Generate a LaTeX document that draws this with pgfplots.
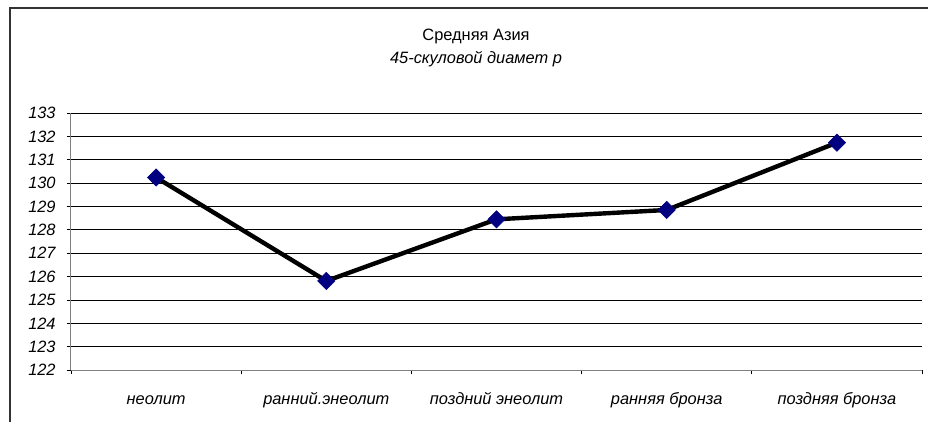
\documentclass[border=0pt]{standalone}
\usepackage{fontspec}
\setmainfont{Liberation Sans}
\usepackage{pgfplots}
\pgfplotsset{compat=1.18}
\definecolor{navy}{HTML}{000080}
\definecolor{axgray}{HTML}{808080}

\begin{document}
\begin{tikzpicture}
% page is 928 x 422 px at 0.75pt per px
\useasboundingbox (0,0) rectangle (696pt,316.5pt);
\draw[black!80, line width=1pt] (7.5pt,0) -- (7.5pt,310.5pt) -- (696pt,310.5pt);
\node[font=\fontsize{12.3}{14}\selectfont] at (357pt,289pt) {Средняя Азия};
\node[font=\itshape\fontsize{12.3}{14}\selectfont] at (357pt,272.5pt) {45-скуловой диамет р};
\begin{axis}[
  at={(53.25pt,39pt)}, anchor=south west,
  scale only axis, width=638.25pt, height=192.75pt,
  xmin=0.5, xmax=5.5, ymin=122, ymax=133,
  xtick={0.5,1.5,...,5.5}, x tick label as interval,
  xticklabels={неолит, ранний.энеолит, поздний энеолит, ранняя бронза, поздняя бронза},
  ytick={122,...,133},
  axis lines*=left,
  axis line style={axgray, line width=0.75pt, -},
  ymajorgrids, major grid style={black, line width=0.6pt},
  tick align=outside, major tick length=3pt,
  tick style={black, line width=0.6pt},
  tick label style={font=\itshape\fontsize{12.3}{14}\selectfont},
  xticklabel style={text height=9pt, text depth=2.5pt, yshift=-10pt},
  yticklabel style={xshift=-5pt},
  /pgf/number format/assume math mode=true,
  clip=false,
]
\addplot[black, line width=3.3pt, mark=square*, mark size=4.6pt,
  mark options={rotate=45, fill=navy, draw=navy, line width=0.4pt}]
  coordinates {(1,130.24) (2,125.81) (3,128.45) (4,128.85) (5,131.73)};
\end{axis}
\end{tikzpicture}
\end{document}
